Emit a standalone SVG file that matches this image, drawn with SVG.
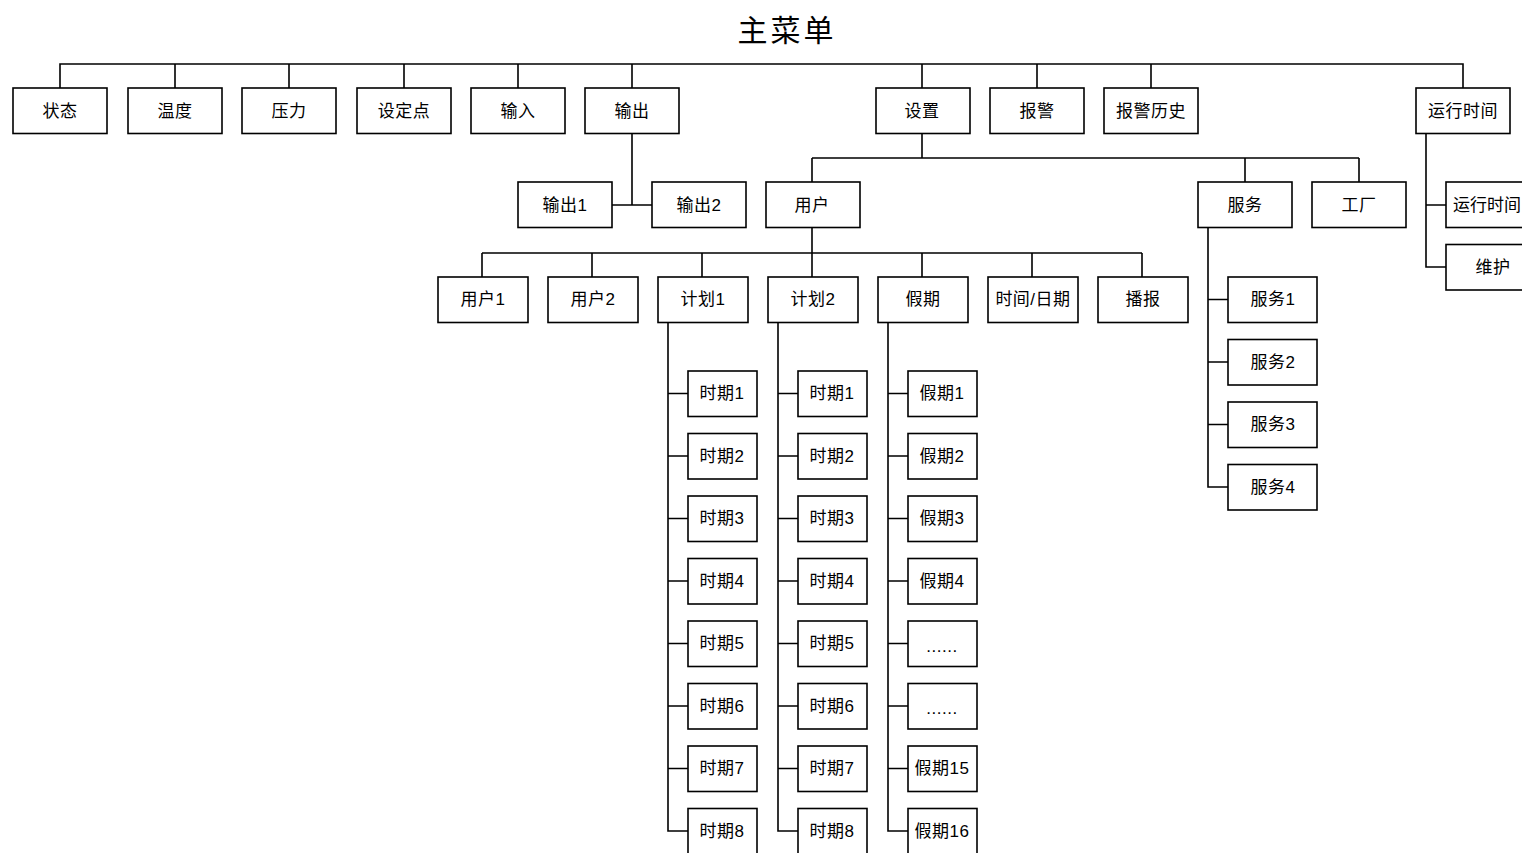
<svg xmlns="http://www.w3.org/2000/svg" width="1522" height="853" viewBox="0 0 1522 853">
<style>
.b{fill:#fff;stroke:#000;stroke-width:1.6}
.t{font-family:"Liberation Sans","Noto Sans CJK SC",sans-serif;font-size:17px;fill:#000;text-anchor:middle;dominant-baseline:central;letter-spacing:0.5px}
.c{fill:none;stroke:#000;stroke-width:1.6}
.title{font-family:"Liberation Sans","Noto Sans CJK SC",sans-serif;font-size:30px;fill:#000;text-anchor:middle;letter-spacing:3px}
</style>
<rect width="1522" height="853" fill="#fff"/>
<text class="title" x="787" y="41">主菜单</text>
<g id="connectors">
<path class="c" d="M60,88V64H1463V88M175,64V88M289,64V88M404,64V88M518,64V88M632,64V88M922,64V88M1037,64V88M1151,64V88"/>
<path class="c" d="M632,134V205M612,205H652"/>
<path class="c" d="M922,134V158M812,158H1359M812,158V182M1245,158V182M1359,158V182"/>
<path class="c" d="M1426,134V267H1446M1426,205H1446"/>
<path class="c" d="M812,228V253M482,253H1142M482,253V277M592,253V277M702,253V277M812,253V277M922,253V277M1032,253V277M1142,253V277"/>
<path class="c" d="M1208,228V487H1228M1208,299.5H1228M1208,362H1228M1208,424.5H1228"/>
<path class="c" d="M668,322V831H688M668,393.5H688M668,456H688M668,518.5H688M668,581H688M668,643.5H688M668,706H688M668,768.5H688"/>
<path class="c" d="M778,322V831H798M778,393.5H798M778,456H798M778,518.5H798M778,581H798M778,643.5H798M778,706H798M778,768.5H798"/>
<path class="c" d="M888,322V831H908M888,393.5H908M888,456H908M888,518.5H908M888,581H908M888,643.5H908M888,706H908M888,768.5H908"/>
</g>
<g id="n-zhuangtai"><rect class="b" x="13" y="88" width="94" height="45.5"/><text class="t" x="60" y="111">状态</text></g>
<g id="n-wendu"><rect class="b" x="128" y="88" width="94" height="45.5"/><text class="t" x="175" y="111">温度</text></g>
<g id="n-yali"><rect class="b" x="242" y="88" width="94" height="45.5"/><text class="t" x="289" y="111">压力</text></g>
<g id="n-shedingdian"><rect class="b" x="357" y="88" width="94" height="45.5"/><text class="t" x="404" y="111">设定点</text></g>
<g id="n-shuru"><rect class="b" x="471" y="88" width="94" height="45.5"/><text class="t" x="518" y="111">输入</text></g>
<g id="n-shuchu"><rect class="b" x="585" y="88" width="94" height="45.5"/><text class="t" x="632" y="111">输出</text></g>
<g id="n-shezhi"><rect class="b" x="876" y="88" width="94" height="45.5"/><text class="t" x="922" y="111">设置</text></g>
<g id="n-baojing"><rect class="b" x="990" y="88" width="94" height="45.5"/><text class="t" x="1037" y="111">报警</text></g>
<g id="n-baojinglishi"><rect class="b" x="1104" y="88" width="94" height="45.5"/><text class="t" x="1151" y="111">报警历史</text></g>
<g id="n-yunxingshijian"><rect class="b" x="1416" y="88" width="94" height="45.5"/><text class="t" x="1463" y="111">运行时间</text></g>
<g id="n-shuchu1"><rect class="b" x="518" y="182" width="94" height="45.5"/><text class="t" x="565" y="205">输出1</text></g>
<g id="n-shuchu2"><rect class="b" x="652" y="182" width="94" height="45.5"/><text class="t" x="699" y="205">输出2</text></g>
<g id="n-yonghu"><rect class="b" x="766" y="182" width="94" height="45.5"/><text class="t" x="812" y="205">用户</text></g>
<g id="n-fuwu"><rect class="b" x="1198" y="182" width="94" height="45.5"/><text class="t" x="1245" y="205">服务</text></g>
<g id="n-gongchang"><rect class="b" x="1312" y="182" width="94" height="45.5"/><text class="t" x="1359" y="205">工厂</text></g>
<g id="n-yunxingshijian2"><rect class="b" x="1446" y="182" width="94" height="45.5"/><text class="t" x="1487" y="205" style="letter-spacing:0">运行时间</text></g>
<g id="n-weihu"><rect class="b" x="1446" y="244.5" width="94" height="45.5"/><text class="t" x="1493" y="267">维护</text></g>
<g id="n-yonghu1"><rect class="b" x="438" y="277" width="90" height="45.5"/><text class="t" x="483" y="299.5">用户1</text></g>
<g id="n-yonghu2"><rect class="b" x="548" y="277" width="90" height="45.5"/><text class="t" x="593" y="299.5">用户2</text></g>
<g id="n-jihua1"><rect class="b" x="658" y="277" width="90" height="45.5"/><text class="t" x="703" y="299.5">计划1</text></g>
<g id="n-jihua2"><rect class="b" x="768" y="277" width="90" height="45.5"/><text class="t" x="813" y="299.5">计划2</text></g>
<g id="n-jiaqi"><rect class="b" x="878" y="277" width="90" height="45.5"/><text class="t" x="923" y="299.5">假期</text></g>
<g id="n-shijianriqi"><rect class="b" x="988" y="277" width="90" height="45.5"/><text class="t" x="1033" y="299.5">时间/日期</text></g>
<g id="n-bobao"><rect class="b" x="1098" y="277" width="90" height="45.5"/><text class="t" x="1143" y="299.5">播报</text></g>
<g id="n-fuwu1"><rect class="b" x="1228" y="277" width="89" height="45.5"/><text class="t" x="1273" y="299.5">服务1</text></g>
<g id="n-fuwu2"><rect class="b" x="1228" y="339.5" width="89" height="45.5"/><text class="t" x="1273" y="362">服务2</text></g>
<g id="n-fuwu3"><rect class="b" x="1228" y="402" width="89" height="45.5"/><text class="t" x="1273" y="424.5">服务3</text></g>
<g id="n-fuwu4"><rect class="b" x="1228" y="464.5" width="89" height="45.5"/><text class="t" x="1273" y="487">服务4</text></g>
<g id="n-a1"><rect class="b" x="688" y="371" width="69" height="45.5"/><text class="t" x="722" y="393.5">时期1</text></g>
<g id="n-a2"><rect class="b" x="688" y="433.5" width="69" height="45.5"/><text class="t" x="722" y="456">时期2</text></g>
<g id="n-a3"><rect class="b" x="688" y="496" width="69" height="45.5"/><text class="t" x="722" y="518.5">时期3</text></g>
<g id="n-a4"><rect class="b" x="688" y="558.5" width="69" height="45.5"/><text class="t" x="722" y="581">时期4</text></g>
<g id="n-a5"><rect class="b" x="688" y="621" width="69" height="45.5"/><text class="t" x="722" y="643.5">时期5</text></g>
<g id="n-a6"><rect class="b" x="688" y="683.5" width="69" height="45.5"/><text class="t" x="722" y="706">时期6</text></g>
<g id="n-a7"><rect class="b" x="688" y="746" width="69" height="45.5"/><text class="t" x="722" y="768.5">时期7</text></g>
<g id="n-a8"><rect class="b" x="688" y="808.5" width="69" height="45.5"/><text class="t" x="722" y="831">时期8</text></g>
<g id="n-b1"><rect class="b" x="798" y="371" width="69" height="45.5"/><text class="t" x="832" y="393.5">时期1</text></g>
<g id="n-b2"><rect class="b" x="798" y="433.5" width="69" height="45.5"/><text class="t" x="832" y="456">时期2</text></g>
<g id="n-b3"><rect class="b" x="798" y="496" width="69" height="45.5"/><text class="t" x="832" y="518.5">时期3</text></g>
<g id="n-b4"><rect class="b" x="798" y="558.5" width="69" height="45.5"/><text class="t" x="832" y="581">时期4</text></g>
<g id="n-b5"><rect class="b" x="798" y="621" width="69" height="45.5"/><text class="t" x="832" y="643.5">时期5</text></g>
<g id="n-b6"><rect class="b" x="798" y="683.5" width="69" height="45.5"/><text class="t" x="832" y="706">时期6</text></g>
<g id="n-b7"><rect class="b" x="798" y="746" width="69" height="45.5"/><text class="t" x="832" y="768.5">时期7</text></g>
<g id="n-b8"><rect class="b" x="798" y="808.5" width="69" height="45.5"/><text class="t" x="832" y="831">时期8</text></g>
<g id="n-c1"><rect class="b" x="908" y="371" width="69" height="45.5"/><text class="t" x="942" y="393.5">假期1</text></g>
<g id="n-c2"><rect class="b" x="908" y="433.5" width="69" height="45.5"/><text class="t" x="942" y="456">假期2</text></g>
<g id="n-c3"><rect class="b" x="908" y="496" width="69" height="45.5"/><text class="t" x="942" y="518.5">假期3</text></g>
<g id="n-c4"><rect class="b" x="908" y="558.5" width="69" height="45.5"/><text class="t" x="942" y="581">假期4</text></g>
<g id="n-c5"><rect class="b" x="908" y="621" width="69" height="45.5"/><text class="t" x="942" y="646">......</text></g>
<g id="n-c6"><rect class="b" x="908" y="683.5" width="69" height="45.5"/><text class="t" x="942" y="708.5">......</text></g>
<g id="n-c15"><rect class="b" x="908" y="746" width="69" height="45.5"/><text class="t" x="942" y="768.5">假期15</text></g>
<g id="n-c16"><rect class="b" x="908" y="808.5" width="69" height="45.5"/><text class="t" x="942" y="831">假期16</text></g>
</svg>
